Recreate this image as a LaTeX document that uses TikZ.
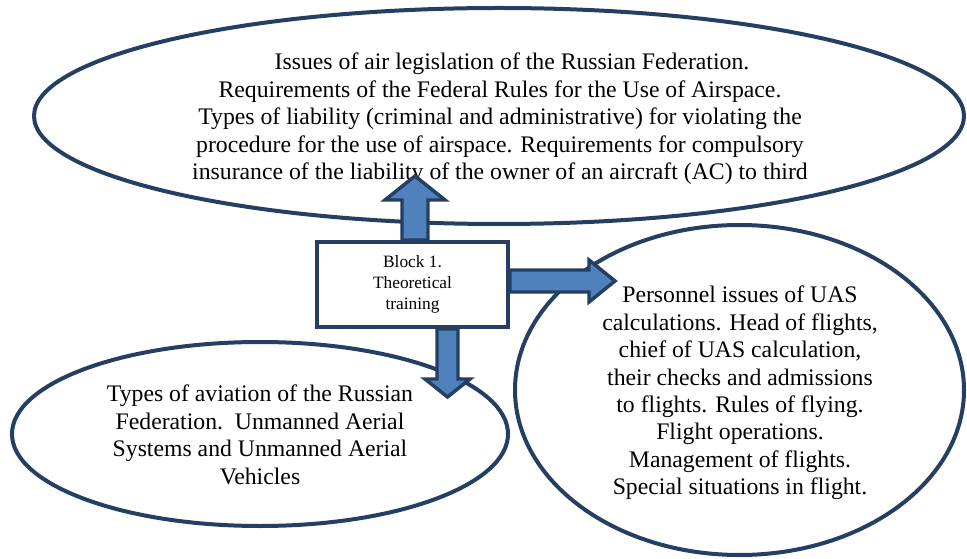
\documentclass[tikz,border=0pt]{standalone}
\usepackage{fontspec}
\setmainfont{Liberation Serif}
\usetikzlibrary{shapes.geometric,calc}
\definecolor{edge}{HTML}{243F62}
\definecolor{arrowfill}{HTML}{4F81BD}
\begin{document}
\begin{tikzpicture}[x=0.75pt,y=-0.75pt,
  bubble/.style={ellipse,draw=edge,line width=3pt,inner sep=0pt,fill=white},
  txt/.style={align=center,font=\fontsize{17.8}{20.6}\selectfont,inner sep=0pt},
  blockbox/.style={rectangle,draw=edge,line width=3pt,fill=white,align=center,inner sep=0pt,
    font=\fontsize{13}{15.75}\selectfont},
  barrow/.style={draw=edge,line width=2.6pt,fill=arrowfill,line join=miter}]
\useasboundingbox (0,0) rectangle (967,559);
\node[bubble,minimum width=697.5pt,minimum height=162pt] (top) at (499,116) {};
\node[bubble,minimum width=372pt,minimum height=138pt] (left) at (260,434) {};
\node[bubble,minimum width=336.75pt,minimum height=247.5pt] (right) at (739.5,390) {};
\node[txt] (toptext) at (500,119) {\hspace*{18pt}Issues of air legislation of the Russian Federation.\\
Requirements of the Federal Rules for the Use of Airspace.\\
Types of liability (criminal and administrative) for violating the\\
procedure for the use of airspace. Requirements for compulsory\\
insurance of the liability of the owner of an aircraft (AC) to third};
\node[txt] (lefttext) at (260,435) {Types of aviation of the Russian\\
Federation.\ \ Unmanned Aerial\\
Systems and Unmanned Aerial\\
Vehicles};
\node[txt] (righttext) at (740,393) {Personnel issues of UAS\\
calculations. Head of flights,\\
chief of UAS calculation,\\
their checks and admissions\\
to flights. Rules of flying.\\
Flight operations.\\
Management of flights.\\
Special situations in flight.};
\node[blockbox,minimum width=143.25pt,minimum height=63.75pt] (box) at (412.5,284.5) {Block 1.\\Theoretical\\training};
\draw[barrow] ($(box.north)+(-10.5,0)$) -- ++(0,-40) -- ++(-17,0) -- ++(30,-24) -- ++(30,24) -- ++(-17,0) -- ++(0,40) -- cycle;
\draw[barrow] ($(box.east)+(0,-14.5)$) -- ++(79,0) -- ++(0,-10) -- ++(26,21) -- ++(-26,21) -- ++(0,-10) -- ++(-79,0) -- cycle;
\draw[barrow] ($(box.south)+(24.5,0)$) -- ++(0,50) -- ++(-12,0) -- ++(22.5,18) -- ++(22.5,-18) -- ++(-12,0) -- ++(0,-50) -- cycle;
\end{tikzpicture}
\end{document}
